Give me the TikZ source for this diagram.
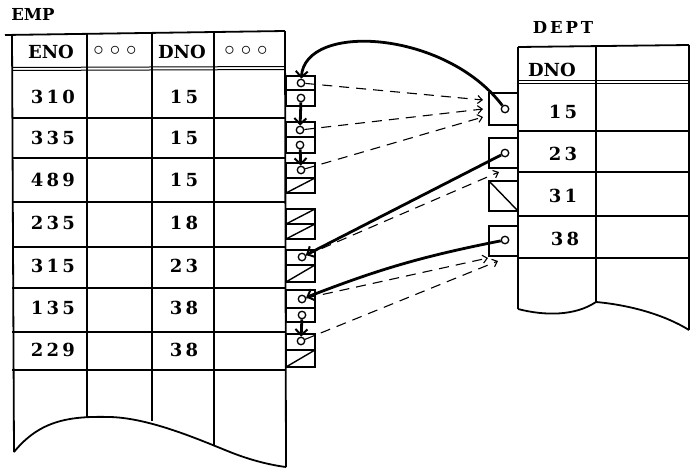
\documentclass[tikz,border=0pt]{standalone}
\usepackage{fontspec}
\newfontfamily\valfont{DejaVu Serif}[LetterSpace=18]
\newfontfamily\hdrfont{DejaVu Serif}[LetterSpace=0]
\newfontfamily\deptfont{DejaVu Serif}[LetterSpace=18]
\usetikzlibrary{arrows.meta}
\begin{document}
\begin{tikzpicture}[x=1pt,y=-1pt,
  tbl/.style={line width=1.8pt},
  dbl/.style={line width=1pt},
  pbox/.style={line width=1.4pt},
  val/.style={font=\valfont\bfseries\fontsize{18}{18}\selectfont, inner sep=0pt},
  hdr/.style={font=\hdrfont\bfseries\fontsize{18}{18}\selectfont, inner sep=0pt},
  lbl/.style={font=\hdrfont\bfseries\fontsize{16.5}{16.5}\selectfont, inner sep=0pt},
  dlbl/.style={font=\deptfont\bfseries\fontsize{16.5}{16.5}\selectfont, inner sep=0pt},
  dots/.style={font=\fontsize{20}{20}\selectfont, inner sep=0pt},
  ptr/.style={circle, draw, line width=1.3pt, minimum size=7.5pt, inner sep=0pt},
  thk/.style={line width=2.8pt, -{Straight Barb[length=6pt,width=12pt,line width=2pt]}},
  dsh/.style={line width=1.1pt, dash pattern=on 10pt off 7pt, -{Straight Barb[length=4.5pt,width=8pt,line width=1.1pt]}}
]
\useasboundingbox (0,0) rectangle (696,469);

% ---------------- EMP table ----------------
\node[lbl] (emplbl) at (33,14) {EMP};
\draw[tbl] (5,35) -- (285,31);
\draw[tbl] (12,35) -- (14,452);
\draw[tbl] (87,34) -- (87,417);
\draw[tbl] (152,33) -- (152,421);
\draw[tbl] (214,32) -- (214,446);
\draw[tbl] (285,31) -- (286,467);
\draw[dbl] (12,67.5) -- (285,66.5);
\draw[dbl] (12,70.5) -- (285,69.5);
\foreach \yy in {118,158,202,247,288,332,370}
  \draw[tbl] (12,\yy) -- (285,\yy);
\draw[tbl] (14,452) .. controls (40,420) and (70,416) .. (110,417)
  .. controls (150,418) and (200,440) .. (230,452)
  .. controls (250,460) and (270,465) .. (286,467);

\node[hdr] (heno) at (51,52) {ENO};
\node[dots] (hdots1) at (115,51) {$\circ$\hspace{6pt}$\circ$\hspace{6pt}$\circ$};
\node[hdr] (hdno) at (182,52) {DNO};
\node[dots] (hdots2) at (246,51) {$\circ$\hspace{6pt}$\circ$\hspace{6pt}$\circ$};

\foreach \eno/\dno/\yy [count=\i] in {310/15/97,335/15/138,489/15/180,235/18/223,315/23/266,135/38/308,229/38/350}{
  \node[val] (eno\i) at (53,\yy) {\eno};
  \node[val] (dno\i) at (184,\yy) {\dno};
}

% pointer boxes beside EMP
\foreach \ya/\yb in {76/90,90/106,122/137,137/153,163/178,178/193,209/224,224/239,250/265,265/282,290/308,308/322,334/350,350/367}
  \draw[pbox] (286,\ya) rectangle (315,\yb);
\foreach \ya/\yb in {178/193,209/224,224/239,265/282,350/367}
  \draw[pbox] (286,\yb) -- (315,\ya);

\node[ptr] (e1) at (301,83) {};
\node[ptr] (e2) at (301,98) {};
\node[ptr] (e3) at (300,130) {};
\node[ptr] (e4) at (300,145) {};
\node[ptr] (e5) at (301,170) {};
\node[ptr] (e9) at (302,257) {};
\node[ptr] (e11) at (302,299) {};
\node[ptr] (e12) at (302,315) {};
\node[ptr] (e13) at (301,341) {};

% ---------------- DEPT table ----------------
\node[dlbl] (deptlbl) at (563,27) {DEPT};
\draw[tbl] (518,47) -- (689,45);
\draw[tbl] (518,47) -- (518,309);
\draw[tbl] (596,46) -- (596,302);
\draw[tbl] (689,45) -- (689,330);
\draw[dbl] (518,80.5) -- (689,80.5);
\draw[dbl] (518,83.5) -- (689,83.5);
\foreach \yy in {131,172,216,258}
  \draw[tbl] (518,\yy) -- (689,\yy);
\draw[tbl] (518,309) .. controls (545,316) and (575,316) .. (596,302)
  .. controls (630,305) and (665,315) .. (689,330);

\node[hdr] (ddno) at (552,70) {DNO};
\node[val] (d1) at (563,112) {15};
\node[val] (d2) at (563,154) {23};
\node[val] (d3) at (563,196) {31};
\node[val] (d4) at (565,239) {38};

% pointer boxes beside DEPT
\draw[pbox] (489,93) rectangle (518,125);
\draw[pbox] (489,138) rectangle (518,168);
\draw[pbox] (489,181) rectangle (518,211);
\draw[pbox] (489,181) -- (518,211);
\draw[pbox] (489,226) rectangle (518,256);
\node[ptr] (d15) at (505,109) {};
\node[ptr] (d23) at (505,153) {};
\node[ptr] (d38) at (505,240) {};

% ---------------- connectors ----------------
\coordinate (t1) at (483,100);
\coordinate (t2) at (483,109);
\coordinate (t3) at (483,117);
\coordinate (t4) at (499,172);
\coordinate (t5) at (488,258);
\coordinate (t6) at (498,261);

\draw[dsh] (e1) -- (t1);
\draw[dsh] (e3) -- (t2);
\draw[dsh] (e5) -- (t3);
\draw[dsh] (e9) -- (t4);
\draw[dsh] (e11) -- (t5);
\draw[dsh] (e13) -- (t6);

\draw[thk] (d15) .. controls (445,30) and (305,22) .. (e1);
\draw[thk] (d23) -- (e9);
\draw[thk] (d38) to[bend right=5] (e11);
\draw[thk] (e2) -- (e3);
\draw[thk] (e4) -- (e5);
\draw[thk] (e12) -- (e13);
\end{tikzpicture}
\end{document}
